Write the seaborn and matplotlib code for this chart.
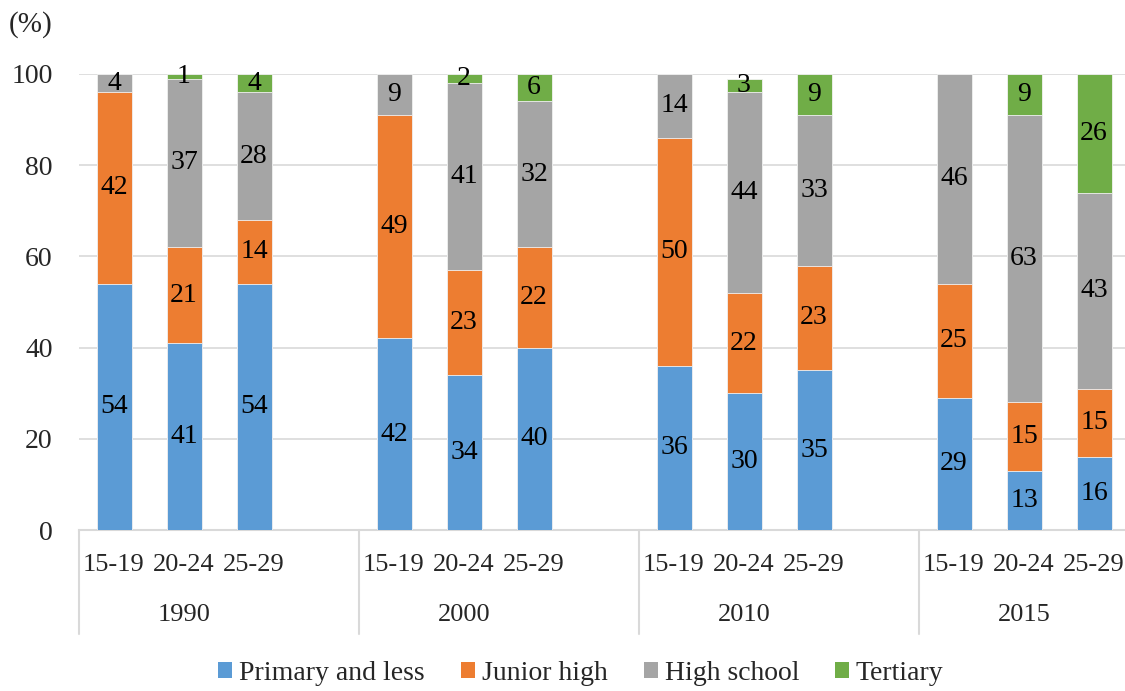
import numpy as np
import pandas as pd
import matplotlib
matplotlib.use("Agg")
import matplotlib.pyplot as plt
import matplotlib.transforms as mtransforms
from matplotlib.patches import Patch
import seaborn as sns

# Educational attainment shares (%) by census year and age group
years = ["1990", "2000", "2010", "2015"]
ages = ["15-19", "20-24", "25-29"]
levels = ["Primary and less", "Junior high", "High school", "Tertiary"]

primary = [54, 41, 54, 42, 34, 40, 36, 30, 35, 29, 13, 16]
junior = [42, 21, 14, 49, 23, 22, 50, 22, 23, 25, 15, 15]
high = [4, 37, 28, 9, 41, 32, 14, 44, 33, 46, 63, 43]
tertiary = [0, 1, 4, 0, 2, 6, 0, 3, 9, 0, 9, 26]

colors = ["#5B9BD5", "#ED7D31", "#A5A5A5", "#70AD47"]

sns.set_theme(style="white")
plt.rcParams["font.family"] = ["Liberation Serif", "DejaVu Serif"]
FS = 20

# slot positions: three bars per year, one empty slot between years
pos = []
for g in range(len(years)):
    for a in range(len(ages)):
        pos.append(g * 4 + a + 0.5)
pos = np.array(pos)

series = [np.array(primary), np.array(junior), np.array(high), np.array(tertiary)]
cum = np.cumsum(np.vstack(series), axis=0)

W, H = 1125, 691
fig = plt.figure(figsize=(W / 100, H / 100), dpi=100)
ax_left, ax_right, ax_bottom, ax_top = 79, 1125, 530, 74
ax = fig.add_axes([ax_left / W, 1 - ax_bottom / H, (ax_right - ax_left) / W, (ax_bottom - ax_top) / H])
slot_px = 70.0

# stacked bars: draw cumulative totals from the top layer down
for i in range(len(levels) - 1, -1, -1):
    df = pd.DataFrame({"x": pos, "y": cum[i]})
    sns.barplot(data=df, x="x", y="y", native_scale=True, width=0.5,
                color=colors[i], saturation=1, edgecolor="#F2F2F2", linewidth=0.6,
                ax=ax, zorder=3)

ax.set_xlim(0, (ax_right - ax_left) / slot_px)
ax.set_ylim(0, 100)

# segment value labels
for i in range(len(levels)):
    base = cum[i] - series[i]
    for x, b, v in zip(pos, base, series[i]):
        if v > 0:
            ax.text(x, b + v / 2, str(v), ha="center", va="center",
                    fontsize=FS, color="black", zorder=5)

# axes styling
ax.set_yticks([0, 20, 40, 60, 80, 100])
ax.set_yticklabels(["0", "20", "40", "60", "80", "100"], fontsize=FS)
ax.tick_params(axis="y", length=0, pad=19)
ax.yaxis.grid(True, color="#D9D9D9", linewidth=1.2, zorder=0)
ax.set_axisbelow(True)
for s in ["left", "right", "top"]:
    ax.spines[s].set_visible(False)
ax.spines["bottom"].set_color("#D9D9D9")
ax.spines["bottom"].set_linewidth(1.5)
ax.set_xlabel("")
ax.set_ylabel("")

# two-level category axis
ax.set_xticks(pos)
ax.set_xticklabels(ages * len(years), fontsize=19)
ax.tick_params(axis="x", length=0, pad=17)

trans = mtransforms.blended_transform_factory(ax.transData, ax.transAxes)
px = 1.0 / (ax_bottom - ax_top)
for g, yr in enumerate(years):
    ax.text(g * 4 + 1.5, -(615 - ax_bottom) * px, yr, transform=trans,
            ha="center", va="center", fontsize=19)
for g in range(len(years)):
    ax.plot([g * 4, g * 4], [0, -(634 - ax_bottom) * px], transform=trans,
            color="#D9D9D9", linewidth=1.5, clip_on=False)

# axis unit
fig.text(9 / W, 1 - 25 / H, "(%)", ha="left", va="center", fontsize=21)

# legend
handles = [Patch(facecolor=c, edgecolor="none") for c in colors]
fig.legend(handles, levels, loc="center", bbox_to_anchor=(581 / W, 1 - 673 / H),
           ncol=4, frameon=False, fontsize=20, handlelength=0.5, handleheight=0.5,
           handletextpad=0.25, columnspacing=1.3, borderpad=0, borderaxespad=0)

fig.savefig("out.png", dpi=100)
